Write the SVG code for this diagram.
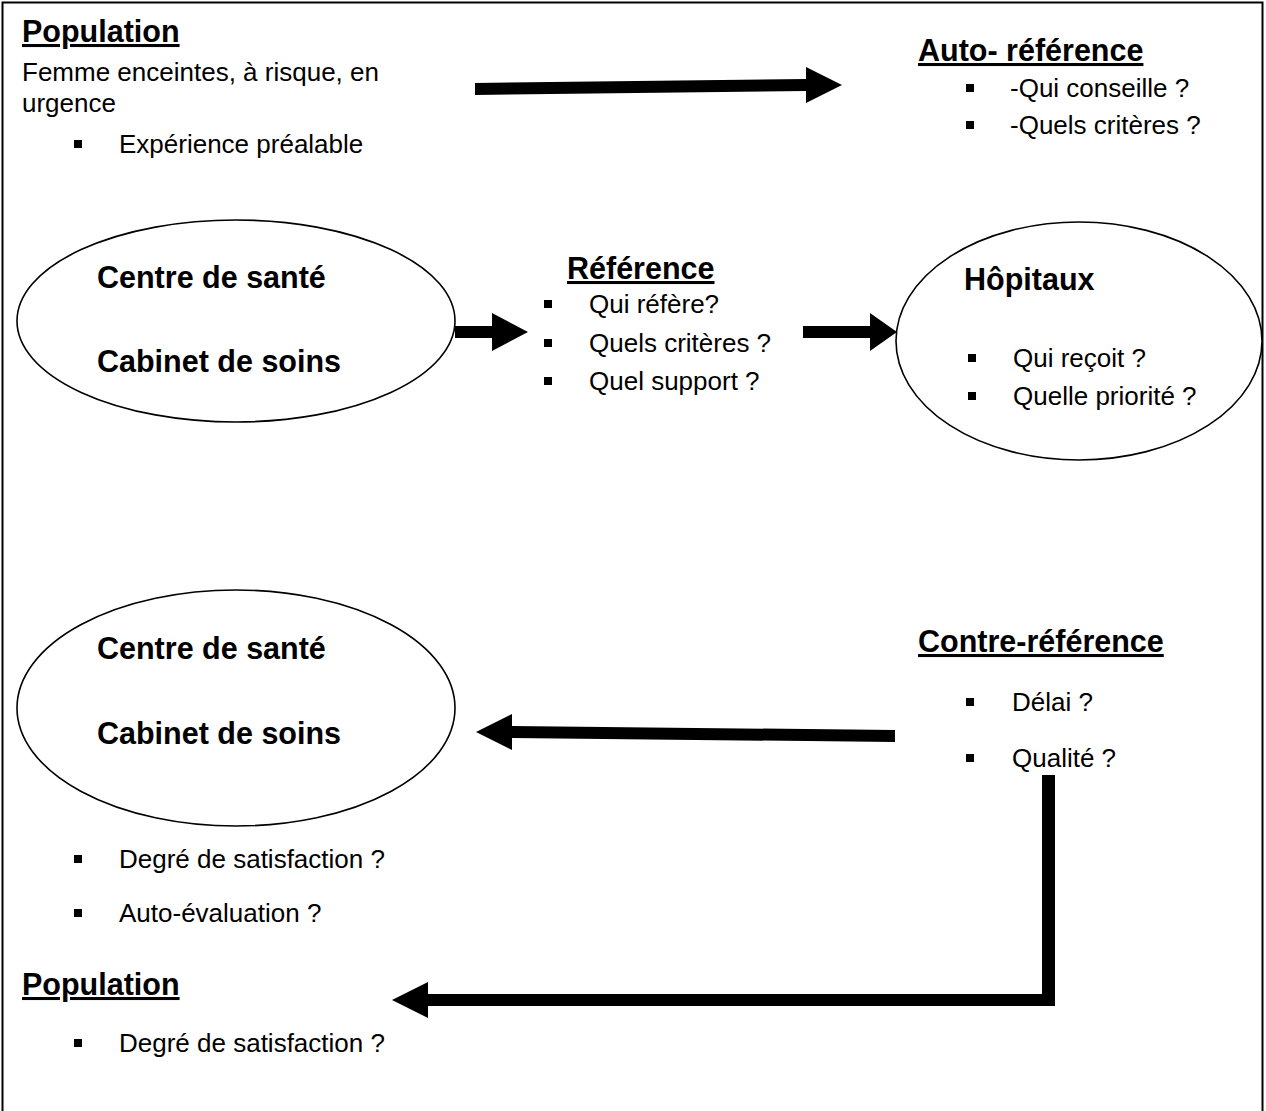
<svg xmlns="http://www.w3.org/2000/svg" width="1266" height="1111" viewBox="0 0 1266 1111">
<style>
.h{font-family:"Liberation Sans",Arial,sans-serif;font-weight:bold;font-size:30.5px;fill:#000}
.u{text-decoration:underline}
.t{font-family:"Liberation Sans",Arial,sans-serif;font-size:26px;fill:#000}
.e{fill:#fff;stroke:#000;stroke-width:1.6}
.b{fill:#000}
.c{fill:#000;stroke:none}
</style>
<defs>
<rect id="bul" x="-4" y="-4" width="8" height="8"/>
</defs>
<rect x="2.5" y="2.5" width="1260" height="1120" fill="#fff" stroke="#000" stroke-width="2"/>

<g id="population-top">
<text class="h u" x="22" y="42">Population</text>
<text class="t" x="22" y="81">Femme enceintes, à risque, en</text>
<text class="t" x="22" y="112">urgence</text>
<use href="#bul" class="b" x="78" y="144"/>
<text class="t" x="119" y="153">Expérience préalable</text>
</g>

<g id="auto-reference">
<text class="h u" x="918" y="61">Auto- référence</text>
<use href="#bul" class="b" x="970" y="88"/>
<text class="t" x="1010" y="97">-Qui conseille ?</text>
<use href="#bul" class="b" x="970" y="125"/>
<text class="t" x="1010" y="134">-Quels critères ?</text>
</g>

<g id="centre-sante-1">
<ellipse class="e" cx="236" cy="321" rx="219" ry="101"/>
<text class="h" x="97" y="288">Centre de santé</text>
<text class="h" x="97" y="372">Cabinet de soins</text>
</g>

<g id="reference">
<text class="h u" x="567" y="279">Référence</text>
<use href="#bul" class="b" x="548" y="304"/>
<text class="t" x="589" y="313">Qui réfère?</text>
<use href="#bul" class="b" x="548" y="343"/>
<text class="t" x="589" y="352">Quels critères ?</text>
<use href="#bul" class="b" x="548" y="381"/>
<text class="t" x="589" y="390">Quel support ?</text>
</g>

<g id="hopitaux">
<ellipse class="e" cx="1079" cy="341" rx="183" ry="119"/>
<text class="h" x="964" y="290">Hôpitaux</text>
<use href="#bul" class="b" x="972" y="358"/>
<text class="t" x="1013" y="367">Qui reçoit ?</text>
<use href="#bul" class="b" x="972" y="396"/>
<text class="t" x="1013" y="405">Quelle priorité ?</text>
</g>

<g id="centre-sante-2">
<ellipse class="e" cx="236" cy="708" rx="219" ry="118"/>
<text class="h" x="97" y="659">Centre de santé</text>
<text class="h" x="97" y="744">Cabinet de soins</text>
</g>

<g id="contre-reference">
<text class="h u" x="918" y="652">Contre-référence</text>
<use href="#bul" class="b" x="970" y="702"/>
<text class="t" x="1012" y="711">Délai ?</text>
<use href="#bul" class="b" x="970" y="758"/>
<text class="t" x="1012" y="767">Qualité ?</text>
</g>

<g id="evaluation">
<use href="#bul" class="b" x="78" y="859"/>
<text class="t" x="119" y="868">Degré de satisfaction ?</text>
<use href="#bul" class="b" x="78" y="913"/>
<text class="t" x="119" y="922">Auto-évaluation ?</text>
</g>

<g id="population-bottom">
<text class="h u" x="22" y="995">Population</text>
<use href="#bul" class="b" x="78" y="1043"/>
<text class="t" x="119" y="1052">Degré de satisfaction ?</text>
</g>

<g id="connectors">
<polygon class="c" points="475,83 806,79 806,67 842,85 806,103 806,91 475,95"/>
<polygon class="c" points="455,326 492,326 492,313 528,332 492,351 492,338 455,338"/>
<polygon class="c" points="803,326 870,326 870,313 897,332 870,351 870,338 803,338"/>
<polygon class="c" points="895,730 512,726 512,714 476,732 512,750 512,738 895,742"/>
<polygon class="c" points="1042,775 1055,775 1055,1006 428,1006 428,1018 392,1000 428,982 428,994 1042,994"/>
</g>
</svg>
